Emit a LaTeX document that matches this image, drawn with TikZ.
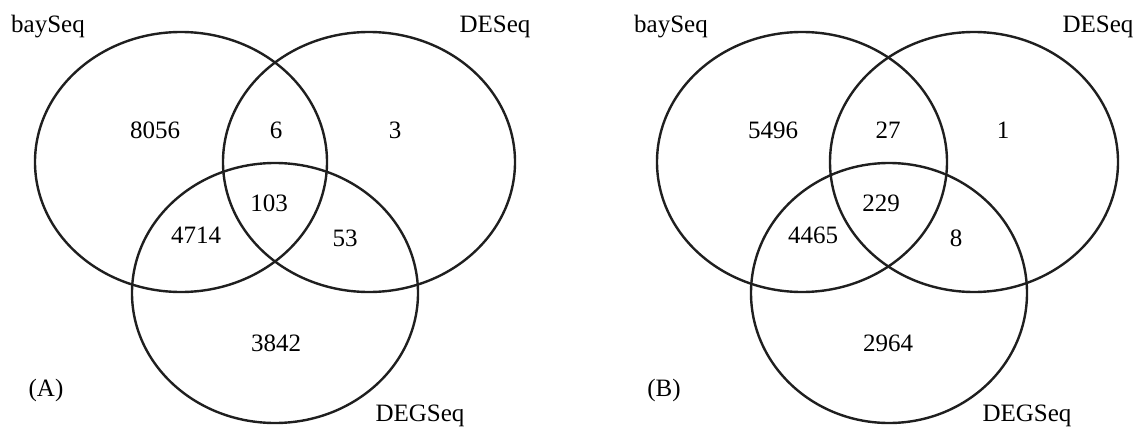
\documentclass[tikz,border=0pt]{standalone}
\usepackage{fontspec}
\setmainfont{Liberation Serif}
\tikzset{
  setline/.style={line width=2.4pt,draw=black!88},
  count/.style={inner sep=0pt,font=\fontsize{25}{30}\selectfont},
  setname/.style={inner sep=0pt,font=\fontsize{25}{30}\selectfont},
}
\begin{document}
\begin{tikzpicture}[x=1pt,y=-1pt]
  \useasboundingbox (0,0) rectangle (1137,428);
  % panel A
  \draw[setline] (181,162) ellipse (146pt and 130pt);
  \draw[setline] (369,162) ellipse (146pt and 130pt);
  \draw[setline] (275,293) ellipse (143pt and 130pt);
  \node[setname] (bayA) at (48,27) {baySeq};
  \node[setname] (desA) at (495,27) {DESeq};
  \node[setname] (degA) at (420,416) {DEGSeq};
  \node[count] (a1) at (155,130) {8056};
  \node[count] (a2) at (276,130) {6};
  \node[count] (a3) at (395,130) {3};
  \node[count] (a4) at (269,203) {103};
  \node[count] (a5) at (196,235) {4714};
  \node[count] (a6) at (345,238) {53};
  \node[count] (a7) at (276,343) {3842};
  \node[setname] (labA) at (46,390) {(A)};
  % panel B
  \draw[setline] (802,162) ellipse (145pt and 130pt);
  \draw[setline] (974,162) ellipse (144pt and 130pt);
  \draw[setline] (889,293) ellipse (138pt and 130pt);
  \node[setname] (bayB) at (671,27) {baySeq};
  \node[setname] (desB) at (1098,27) {DESeq};
  \node[setname] (degB) at (1027,416) {DEGSeq};
  \node[count] (b1) at (773,130) {5496};
  \node[count] (b2) at (888,130) {27};
  \node[count] (b3) at (1003,130) {1};
  \node[count] (b4) at (881,203) {229};
  \node[count] (b5) at (813,235) {4465};
  \node[count] (b6) at (956,238) {8};
  \node[count] (b7) at (888,343) {2964};
  \node[setname] (labB) at (664,390) {(B)};
\end{tikzpicture}
\end{document}
